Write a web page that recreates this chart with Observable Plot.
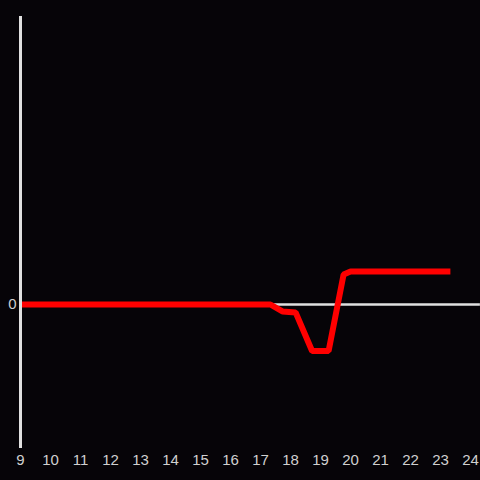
<!DOCTYPE html>
<html><head><meta charset="utf-8">
<script src="https://cdn.jsdelivr.net/npm/d3@7"></script>
<script src="https://cdn.jsdelivr.net/npm/@observablehq/plot@0.6"></script>
<style>
html,body{margin:0;padding:0;background:#060408;}
</style></head>
<body><div id="chart"></div>
<script>
const times = [9, 17.33, 17.73, 18.17, 18.72, 19.27, 19.77, 20.0, 23.33];
const values = [0, 0, -0.21, -0.24, -1.41, -1.41, 0.91, 1.0, 1.0];
const xTicks = [9,10,11,12,13,14,15,16,17,18,19,20,21,22,23,24];
const yTicks = [0];
const data = times.map((t,i)=>({t, v: values[i]}));

const chart = Plot.plot({
  width: 480, height: 480,
  marginLeft: 20, marginRight: 10, marginTop: 16, marginBottom: 32,
  style: {background: "#060408", color: "#d0d0d0", fontFamily: "Liberation Sans, Arial, sans-serif", fontSize: "15px", overflow: "visible"},
  x: {domain: [9, 24], label: null},
  y: {domain: [-4.364, 8.727], label: null},
  marks: [
    Plot.ruleY([0], {x1: 9, x2: 24.33, stroke: "#e0e0e0", strokeWidth: 2.5}),
    Plot.line(data, {x: "t", y: "v", stroke: "#ff0000", strokeWidth: 6, strokeLinejoin: "miter", strokeLinecap: "butt"}),
    Plot.ruleX([9], {stroke: "#e0e0e0", strokeWidth: 3}),
    Plot.axisX({ticks: xTicks, tickSize: 0, tickPadding: 6, fill: "#d0d0d0", fontSize: 15, label: null}),
    Plot.axisY({ticks: yTicks, tickSize: 0, tickPadding: 4, fill: "#d0d0d0", fontSize: 15, label: null})
  ]
});
document.getElementById("chart").appendChild(chart);
</script></body></html>
